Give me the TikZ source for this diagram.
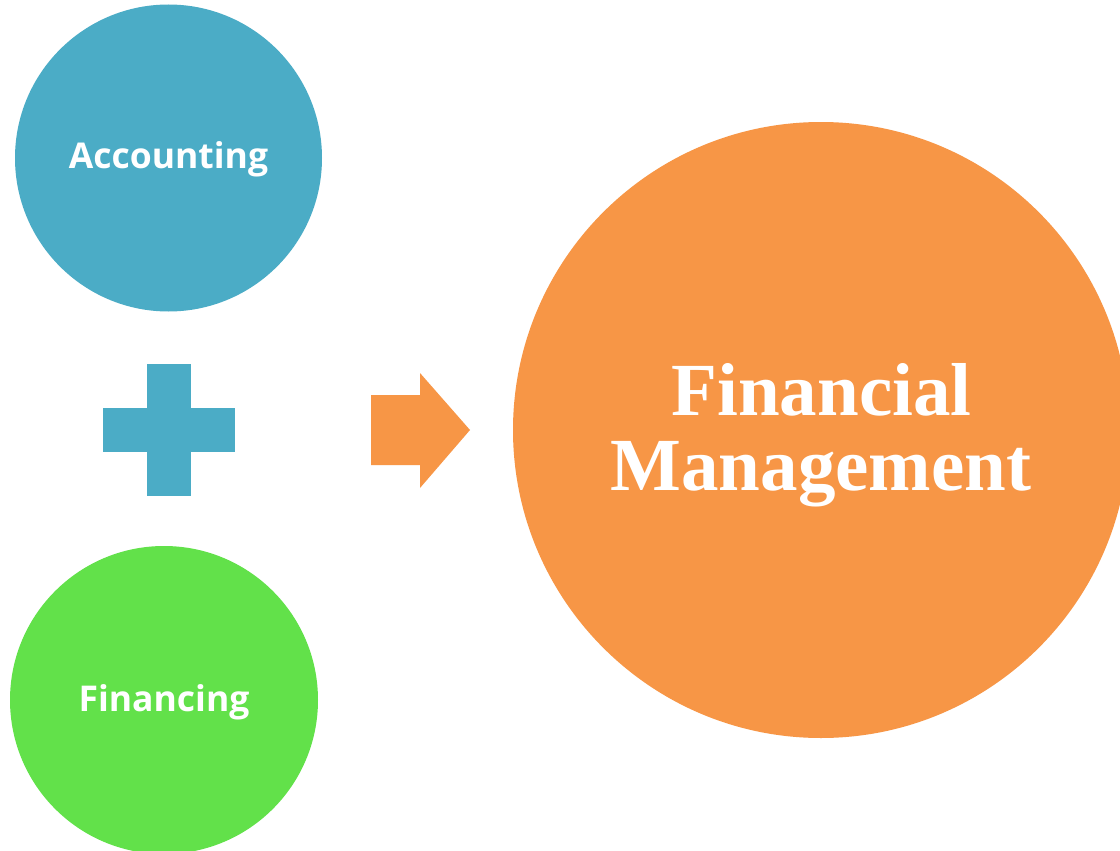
\documentclass[tikz,border=0pt]{standalone}
\usepackage{fontspec}
\setmainfont{Liberation Serif}
\newfontfamily\labfont[Ligatures=NoCommon]{Open Sans}
\definecolor{cblue}{RGB}{75,172,198}
\definecolor{cgreen}{RGB}{98,225,74}
\definecolor{corange}{RGB}{247,150,70}
\tikzset{
  disc/.style={circle, inner sep=0pt, draw=none},
  smalltxt/.style={text=white, font=\labfont\bfseries\fontsize{35.5}{42}\selectfont, anchor=base, inner sep=0pt},
  bigtxt/.style={text=white, font=\bfseries\fontsize{75}{75}\selectfont, anchor=base, inner sep=0pt}
}
\begin{document}
\begin{tikzpicture}[x=1pt,y=-1pt]
\useasboundingbox (0,0) rectangle (1120,851);
\fill[white] (0,0) rectangle (1120,851);
\clip (0,0) rectangle (1120,851);
\node[disc, fill=cblue, minimum size=307pt] (acc) at (168.5,158) {};
\node[disc, fill=cgreen, minimum size=308pt] (fin) at (164,700) {};
\node[disc, fill=corange, minimum size=616pt] (fm) at (821,430) {};
\node[smalltxt] (acct) at (168.5,168) {Accounting};
\node[smalltxt] (fint) at (164,711) {Financing};
\node[bigtxt] (fm1) at (821.5,415) {Financial};
\node[bigtxt] (fm2) at (821,490) {Management};
% plus sign
\fill[cblue] (103,408) rectangle (235,452);
\fill[cblue] (147,364) rectangle (191,496);
% arrow
\fill[corange] (371,395) -- (420,395) -- (420,373) -- (470,430) -- (420,488) -- (420,465) -- (371,465) -- cycle;
\end{tikzpicture}
\end{document}
